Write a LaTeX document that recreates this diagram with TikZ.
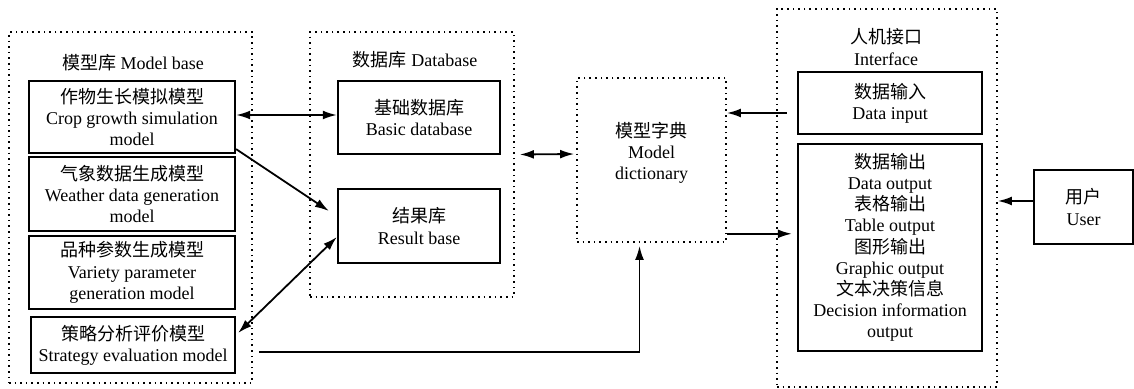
\documentclass[tikz,border=0pt]{standalone}
\usepackage{fontspec}
\setmainfont{Liberation Serif}
\newfontfamily\cjk{Noto Sans CJK SC}
\usetikzlibrary{arrows.meta,calc}
\tikzset{
  txt/.style={align=center, font=\fontsize{9}{10.6}\selectfont, inner sep=0pt},
  box/.style={txt, draw, line width=1.1pt},
  group/.style={draw, dotted, line width=0.8pt},
  arr/.style={line width=0.9pt, -{Latex[length=7pt,width=4.4pt]}},
  darr/.style={line width=0.9pt, {Latex[length=7pt,width=4.4pt]}-{Latex[length=7pt,width=4.4pt]}}
}
\begin{document}
\begin{tikzpicture}[x=0.5pt, y=-0.5pt]
  \useasboundingbox (0,0) rectangle (1134,389);
  % dotted groups
  \node[group, minimum width=121.5pt, minimum height=175.5pt] (mbase) at (130.5,207.5) {};
  \node[group, minimum width=102pt, minimum height=132.5pt] (dbase) at (412,164.5) {};
  \node[group, minimum width=110pt, minimum height=189pt] (iface) at (887,198) {};
  \node[txt] (mbaset) at (133,63) {{\cjk 模型库} Model base};
  \node[txt] (dbaset) at (415,60) {{\cjk 数据库} Database};
  \node[txt] (ifacet) at (886,47) {{\cjk 人机接口}\\Interface};
  % model base
  \node[box, minimum width=103pt, minimum height=36pt] (crop) at (132,117) {{\cjk 作物生长模拟模型}\\Crop growth simulation\\model};
  \node[box, minimum width=103pt, minimum height=37pt] (weather) at (132,194) {{\cjk 气象数据生成模型}\\Weather data generation\\model};
  \node[box, minimum width=103pt, minimum height=36.5pt] (variety) at (132,272.5) {{\cjk 品种参数生成模型}\\Variety parameter\\generation model};
  \node[box, minimum width=102pt, minimum height=28pt] (strat) at (133,345) {{\cjk 策略分析评价模型}\\Strategy evaluation model};
  % database
  \node[box, minimum width=81pt, minimum height=36.5pt] (basic) at (419,117.5) {{\cjk 基础数据库}\\Basic database};
  \node[box, minimum width=81pt, minimum height=37pt] (result) at (419,226) {{\cjk 结果库}\\Result base};
  % dictionary
  \node[group, minimum width=74.5pt, minimum height=82pt] (dict) at (651.5,160) {};
  \node[txt] (dictt) at (651.5,153) {{\cjk 模型字典}\\Model\\dictionary};
  % interface
  \node[box, minimum width=92pt, minimum height=31pt] (din) at (890,103) {{\cjk 数据输入}\\Data input};
  \node[box, minimum width=92pt, minimum height=103.5pt] (dout) at (890,247.5) {{\cjk 数据输出}\\Data output\\{\cjk 表格输出}\\Table output\\{\cjk 图形输出}\\Graphic output\\{\cjk 文本决策信息}\\Decision information\\output};
  \node[box, minimum width=49.5pt, minimum height=37pt] (user) at (1083.5,207) {{\cjk 用户}\\User};
  % connectors
  \draw[darr] ($(crop.east)+(0,-2)$) -- ($(crop.east -| basic.west)+(0,-2)$);
  \draw[arr] ($(crop.south east)+(0,-5)$) -- ($(result.west)+(-8,-15)$);
  \draw[darr] ($(result.west)+(0,11)$) -- ($(strat.east)+(2,-12)$);
  \draw[darr] ($(dbase.east)+(5,-10)$) -- ($(dict.west)+(-2,-6)$);
  \coordinate (inL) at ($(din.west)+(-10,10)$);
  \draw[arr] (inL) -- (inL -| dict.east);
  \coordinate (outL) at ($(dict.south east)+(0,-9)$);
  \draw[arr, shorten >=2.5pt] (outL) -- (outL -| dout.west);
  \coordinate (stratR) at ($(strat.east)+(23,7)$);
  \draw[arr] (stratR) -| ($(dict.south)+(-12,3)$);
  \coordinate (userL) at ($(user.west)+(0,-6)$);
  \draw[arr] (userL) -- (userL -| iface.east);
\end{tikzpicture}
\end{document}
